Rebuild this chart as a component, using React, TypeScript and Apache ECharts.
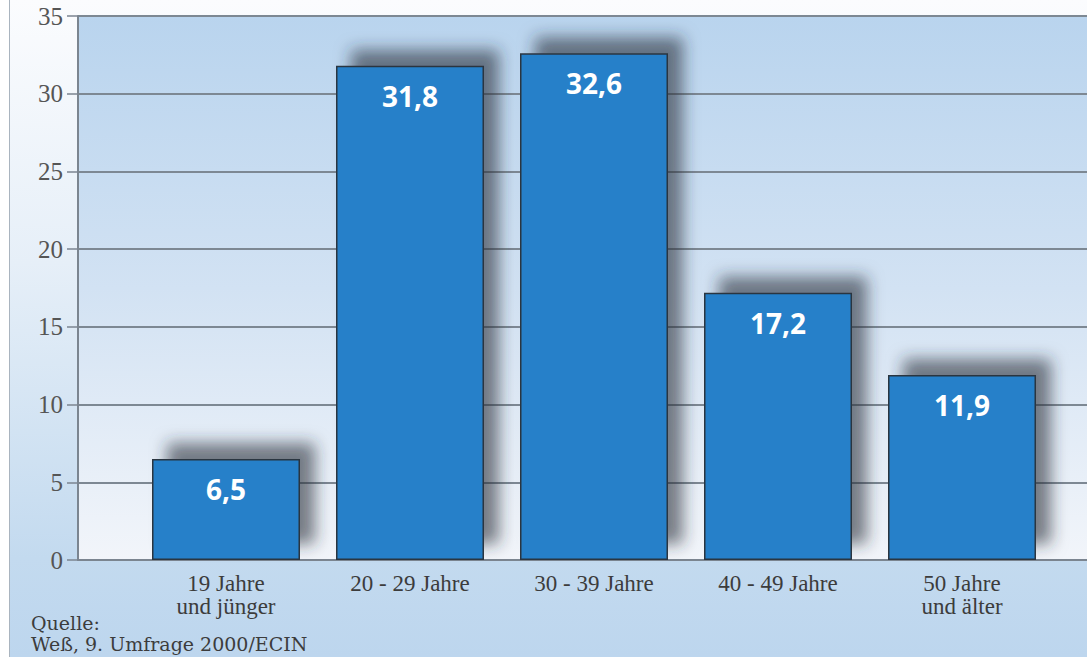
import React, { useEffect, useRef } from "react";
import * as echarts from "echarts";

const categories = ["19 Jahre\nund jünger", "20 - 29 Jahre", "30 - 39 Jahre", "40 - 49 Jahre", "50 Jahre\nund älter"];
const values = [6.5, 31.8, 32.6, 17.2, 11.9];
const valueLabels = ["6,5", "31,8", "32,6", "17,2", "11,9"];
const yTicks = { min: 0, max: 35, interval: 5 };
const sourceLines = ["Quelle:", "Weß, 9. Umfrage 2000/ECIN"];

export default function App() {
  const ref = useRef<HTMLDivElement>(null);
  useEffect(() => {
    document.body.style.margin = "0";
    const chart = echarts.init(ref.current!, undefined, { renderer: "svg" });
    const serif = "'Liberation Serif', 'DejaVu Serif', serif";
    chart.setOption({
      animation: false,
      grid: [
        {
          left: 78, right: -2, top: 16, bottom: 97, show: true, borderWidth: 0,
          backgroundColor: new echarts.graphic.LinearGradient(0, 0, 0, 1, [
            { offset: 0, color: "#b9d4ee" },
            { offset: 0.5, color: "#d2e2f3" },
            { offset: 1, color: "#f2f5fa" },
          ]),
        },
        { left: 134, right: 33, top: 16, bottom: 97 },
      ],
      xAxis: [
        {
          gridIndex: 0, type: "value", min: 0, max: 1,
          axisLine: { show: true, lineStyle: { color: "#7b8590", width: 2 } },
          axisTick: { show: false }, axisLabel: { show: false }, splitLine: { show: false },
        },
        {
          gridIndex: 1, type: "category", data: categories,
          axisLine: { show: false }, axisTick: { show: false },
          axisLabel: { fontFamily: serif, fontSize: 23, color: "#3c3c3c", lineHeight: 23, margin: 12 },
        },
      ],
      yAxis: [
        {
          gridIndex: 0, type: "value", min: yTicks.min, max: yTicks.max, interval: yTicks.interval,
          axisLine: { show: true, lineStyle: { color: "#7b8590", width: 2 } },
          axisTick: { show: true, length: 11, lineStyle: { color: "#7b8590", width: 1.5 } },
          axisLabel: { fontFamily: serif, fontSize: 25, color: "#555", margin: 15 },
          splitLine: { show: true, lineStyle: { color: "#7d8893", width: 2 } },
        },
        {
          gridIndex: 1, type: "value", min: yTicks.min, max: yTicks.max, interval: yTicks.interval, show: false,
        },
      ],
      series: [
        {
          type: "bar", xAxisIndex: 1, yAxisIndex: 1,
          data: values, barWidth: 148,
          itemStyle: {
            color: "#2580c9",
            borderColor: "#2b3440", borderWidth: 1.5,
            shadowColor: "rgba(40,45,55,0.6)", shadowBlur: 16, shadowOffsetX: 15, shadowOffsetY: -16,
          },
          label: {
            show: true, position: "insideTop", distance: 16,
            formatter: (p: any) => valueLabels[p.dataIndex],
            color: "#ffffff", fontFamily: "'Open Sans', 'Noto Sans', sans-serif", fontWeight: "bold", fontSize: 28,
          },
        },
      ],
      graphic: sourceLines.map((line, i) => ({
        type: "text", left: 31, top: 613 + i * 21,
        style: { text: line, fontFamily: "'DejaVu Serif', serif", fontSize: 19, fill: "#3c3c3c" },
      })),
    });
    return () => chart.dispose();
  }, []);
  return (
    <div
      ref={ref}
      style={{
        position: "absolute", left: 0, top: 0, width: 1087, height: 657,
        background: "linear-gradient(to right, #ffffff 0px, #ffffff 9px, #a9b4bf 9px, #a9b4bf 10px, transparent 10px), linear-gradient(to bottom, #fbfcfe 0%, #e6eff8 40%, #c3daef 85%, #bdd6ee 100%)",
      }}
    />
  );
}
